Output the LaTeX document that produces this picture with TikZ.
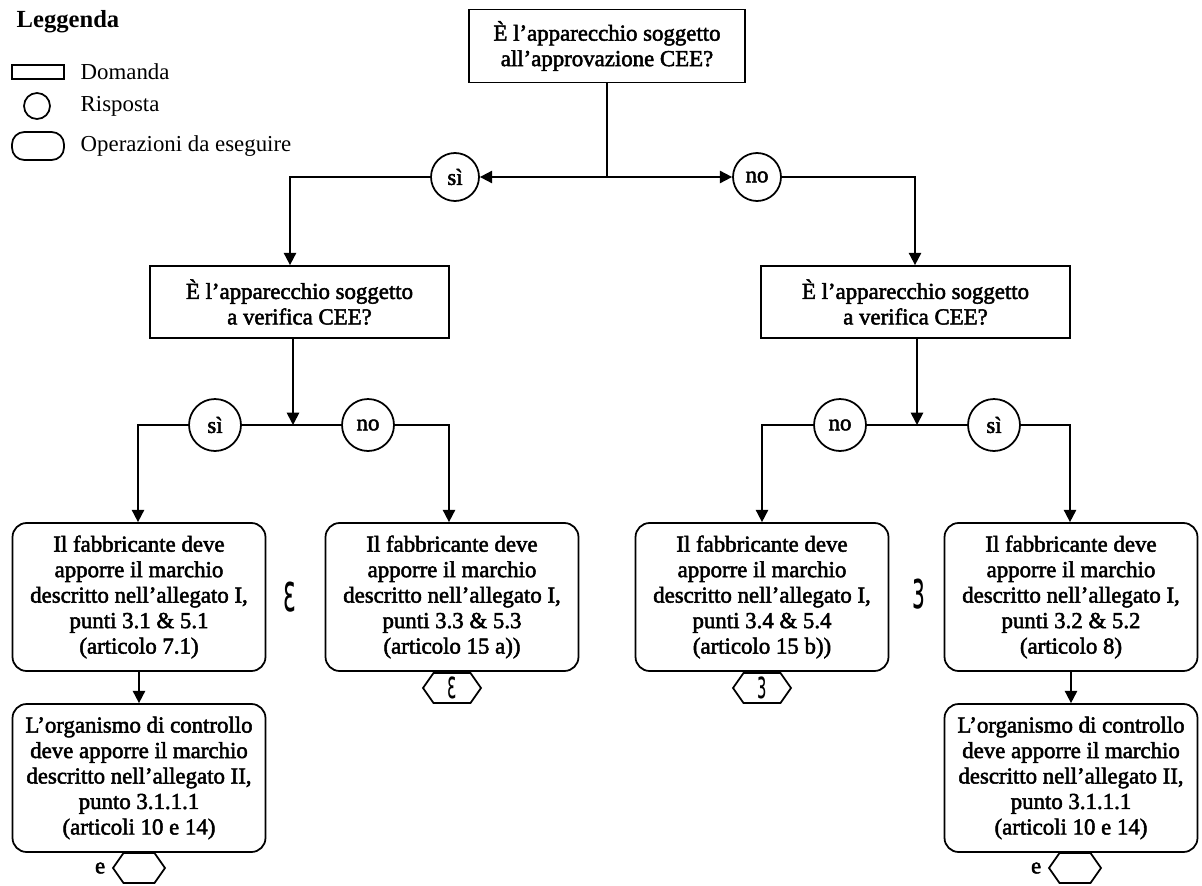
\documentclass[tikz,border=0pt]{standalone}
\usepackage{fontspec}
\usepackage{graphicx}
\setmainfont{Liberation Serif}
\newfontfamily\grasso{Liberation Serif}[FakeBold=2.2]
\newfontfamily\simboli{DejaVu Sans}
\newcommand{\epsa}[1]{\scalebox{0.9}[2]{\simboli\fontsize{#1}{#1}\selectfont ε}}
\newcommand{\epsb}[1]{\scalebox{0.9}[2]{\simboli\fontsize{#1}{#1}\selectfont ɜ}}
\usetikzlibrary{arrows.meta,shapes.symbols}
\tikzset{
  testo/.style={font=\grasso\fontsize{13}{14.5}\selectfont},
  domanda/.style={draw, rectangle, align=center, testo, minimum height=1.44cm},
  risposta/.style={draw, circle, testo, inner sep=0pt},
  operazione/.style={draw, rectangle, rounded corners=8pt, align=center, testo,
    minimum width=5.06cm, minimum height=2.96cm},
  esagono/.style={draw, signal, signal to=east and west, signal pointer angle=110,
    minimum width=1.16cm, minimum height=0.6cm, inner sep=0pt, testo},
  freccia/.style={-{Triangle[length=7pt,width=7pt]}}
}
\begin{document}
\begin{tikzpicture}[x=0.02cm, y=-0.02cm, line width=1pt]
  \useasboundingbox (0,0) rectangle (1202,885);
  % legenda
  \node[anchor=base west, font=\fontsize{14}{15}\selectfont\bfseries] (leg) at (10,28) {Leggenda};
  \draw (12,65) rectangle (64,79);
  \draw (37,106) circle (13);
  \draw[rounded corners=7pt] (12,132) rectangle (64,160);
  \node[anchor=west, font=\fontsize{13}{14.5}\selectfont] (legdom) at (74,72) {Domanda};
  \node[anchor=west, font=\fontsize{13}{14.5}\selectfont] (legris) at (74,106) {Risposta};
  \node[anchor=west, font=\fontsize{13}{14.5}\selectfont] (legop) at (74,146) {Operazioni da eseguire};

  \node[domanda, minimum width=5.52cm, minimum height=1.46cm] (dom1) at (607,46) {È l’apparecchio soggetto\\all’approvazione CEE?};
  \coordinate (g1) at (607,177);
  \node[risposta, minimum size=0.96cm] (si1) at (455,177) {sì};
  \node[risposta, minimum size=0.96cm] (no1) at (757,177) {no};
  \coordinate (c1) at (290,177);
  \coordinate (c2) at (915,177);

  \node[domanda, minimum width=5.98cm] (dom2) at (299.5,302) {È l’apparecchio soggetto\\a verifica CEE?};
  \node[domanda, minimum width=6.18cm] (dom3) at (915.5,302) {È l’apparecchio soggetto\\a verifica CEE?};

  \coordinate (g2) at (293,425);
  \node[risposta, minimum size=1.04cm] (si2) at (215,425) {sì};
  \node[risposta, minimum size=1.04cm] (no2) at (368,425) {no};
  \coordinate (c3) at (138,425);
  \coordinate (c4) at (449,425);
  \coordinate (g3) at (917,425);
  \node[risposta, minimum size=1.04cm] (no3) at (840,425) {no};
  \node[risposta, minimum size=1.04cm] (si3) at (994,425) {sì};
  \coordinate (c5) at (762,425);
  \coordinate (c6) at (1070,425);

  \node[operazione] (opA) at (139,597) {Il fabbricante deve\\apporre il marchio\\descritto nell’allegato I,\\punti 3.1 \& 5.1\\(articolo 7.1)};
  \node[operazione] (opB) at (452,597) {Il fabbricante deve\\apporre il marchio\\descritto nell’allegato I,\\punti 3.3 \& 5.3\\(articolo 15 a))};
  \node[operazione] (opC) at (762,597) {Il fabbricante deve\\apporre il marchio\\descritto nell’allegato I,\\punti 3.4 \& 5.4\\(articolo 15 b))};
  \node[operazione] (opD) at (1071,597) {Il fabbricante deve\\apporre il marchio\\descritto nell’allegato I,\\punti 3.2 \& 5.2\\(articolo 8)};
  \node[operazione] (opE) at (139,778) {L’organismo di controllo\\deve apporre il marchio\\descritto nell’allegato II,\\punto 3.1.1.1\\(articoli 10 e 14)};
  \node[operazione] (opF) at (1071,778) {L’organismo di controllo\\deve apporre il marchio\\descritto nell’allegato II,\\punto 3.1.1.1\\(articoli 10 e 14)};

  \node[inner sep=0pt] (simB) at (290,597) {\epsa{15}};
  \node[inner sep=0pt] (simC) at (919,594) {\epsb{15}};
  \node[esagono] (esB) at (452,688) {\epsa{11}};
  \node[esagono] (esC) at (762,688) {\epsb{11}};
  \node[esagono, minimum width=1.04cm, minimum height=0.6cm] (esE) at (139,868) {};
  \node[esagono, minimum width=1.04cm, minimum height=0.6cm] (esF) at (1075,868) {};
  \node[testo, anchor=east] (eE) at (esE.west) {e};
  \node[testo, anchor=east] (eF) at (esF.west) {e};

  \draw (dom1) -- (g1);
  \draw[freccia] (g1) -- (si1);
  \draw[freccia] (g1) -- (no1);
  \draw[freccia] (si1) -- (c1) -- (c1 |- dom2.north);
  \draw[freccia] (no1) -- (c2) -- (c2 |- dom3.north);
  \draw[freccia] (dom2.south -| g2) -- (g2);
  \draw[freccia] (dom3.south -| g3) -- (g3);
  \draw (g2) -- (si2) (g2) -- (no2);
  \draw (g3) -- (si3) (g3) -- (no3);
  \draw[freccia] (si2) -- (c3) -- (c3 |- opA.north);
  \draw[freccia] (no2) -- (c4) -- (c4 |- opB.north);
  \draw[freccia] (no3) -- (c5) -- (c5 |- opC.north);
  \draw[freccia] (si3) -- (c6) -- (c6 |- opD.north);
  \draw[freccia] (opA) -- (opE);
  \draw[freccia] (opD) -- (opF);
\end{tikzpicture}
\end{document}
